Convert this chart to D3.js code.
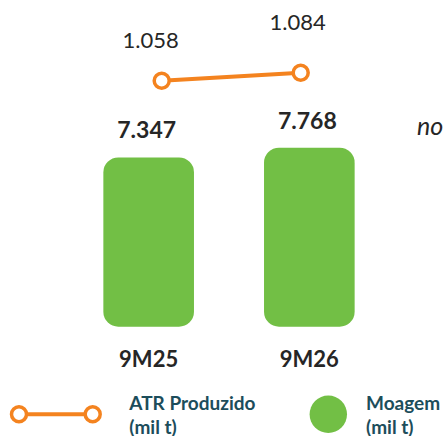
<!DOCTYPE html>
<html>
<head>
<meta charset="utf-8">
<script src="https://cdn.jsdelivr.net/npm/d3@7"></script>
<style>
  body { margin: 0; background: #fff; }
  svg { display: block; font-family: Lato, "Open Sans", sans-serif; }
</style>
</head>
<body>
<div id="chart"></div>
<script>
// data
var categories = ["9M25", "9M26"];
var moagem = [7347, 7768];      // bars, mil t
var atr = [1058, 1084];         // line, mil t
var moagemLabels = ["7.347", "7.768"];
var atrLabels = ["1.058", "1.084"];
var legendNames = [["ATR Produzido", "(mil t)"], ["Moagem", "(mil t)"]];

var W = 443, H = 436;
var orange = "#F4831F", green = "#72BF45", dark = "#262626", teal = "#1C4D5B";

var svg = d3.select("#chart").append("svg")
  .attr("width", W).attr("height", H);

var x = d3.scaleBand().domain(categories).range([33.3, 424.7]).padding(0.436);
var y = d3.scaleLinear().domain([0, 7768]).range([326.7, 147.7]);

// line has its own scales
var lx = d3.scalePoint().domain(categories).range([161.7, 300.7]);
var ly = d3.scaleLinear().domain([1000, 1100]).range([98.5, 67.8]);

var bars = categories.map(function(c, i) { return { cat: c, v: moagem[i], lab: moagemLabels[i] }; });
var pts = categories.map(function(c, i) { return { cat: c, v: atr[i], lab: atrLabels[i] }; });

// bars
svg.selectAll(".bar")
  .data(bars)
  .enter().append("rect")
  .attr("class", "bar")
  .attr("x", function(d) { return x(d.cat); })
  .attr("y", function(d) { return y(d.v); })
  .attr("width", x.bandwidth())
  .attr("height", function(d) { return y(0) - y(d.v); })
  .attr("rx", 15).attr("ry", 15)
  .attr("fill", green);

// bar value labels
svg.selectAll(".barlab")
  .data(bars)
  .enter().append("text")
  .attr("x", function(d) { return x(d.cat) + x.bandwidth() / 2 - 2; })
  .attr("y", function(d) { return y(d.v) - 19; })
  .attr("text-anchor", "middle")
  .style("font-size", "23px").style("font-weight", "bold")
  .attr("fill", dark)
  .text(function(d) { return d.lab; });

// category labels
svg.selectAll(".cat")
  .data(categories)
  .enter().append("text")
  .attr("x", function(d) { return x(d) + x.bandwidth() / 2; })
  .attr("y", 366.7)
  .attr("text-anchor", "middle")
  .style("font-size", "22px").style("font-weight", "bold")
  .attr("fill", dark)
  .text(function(d) { return d; });

// ATR line
var line = d3.line()
  .x(function(d) { return lx(d.cat); })
  .y(function(d) { return ly(d.v); });

svg.append("path")
  .datum(pts)
  .attr("d", line)
  .attr("fill", "none")
  .attr("stroke", orange)
  .attr("stroke-width", 4);

svg.selectAll(".pt")
  .data(pts)
  .enter().append("circle")
  .attr("cx", function(d) { return lx(d.cat); })
  .attr("cy", function(d) { return ly(d.v); })
  .attr("r", 7.5)
  .attr("fill", "#fff")
  .attr("stroke", orange)
  .attr("stroke-width", 3.5);

svg.selectAll(".ptlab")
  .data(pts)
  .enter().append("text")
  .attr("x", function(d, i) { return i == 0 ? lx(d.cat) - 11 : lx(d.cat) - 3; })
  .attr("y", function(d, i) { return i == 0 ? ly(d.v) - 33 : ly(d.v) - 43; })
  .attr("text-anchor", "middle")
  .style("font-size", "22px")
  .attr("fill", dark)
  .text(function(d) { return d.lab; });

// cut-off note at right edge
svg.append("text")
  .attr("x", 417).attr("y", 135)
  .style("font-size", "25px").style("font-style", "italic")
  .attr("fill", dark)
  .text("no");

// legend
var leg = svg.append("g");
leg.append("line")
  .attr("x1", 19).attr("x2", 92.7)
  .attr("y1", 414.3).attr("y2", 414.3)
  .attr("stroke", orange).attr("stroke-width", 4);
leg.selectAll(".lc")
  .data([19, 92.7])
  .enter().append("circle")
  .attr("cx", function(d) { return d; })
  .attr("cy", 414.3)
  .attr("r", 7.5)
  .attr("fill", "#fff")
  .attr("stroke", orange)
  .attr("stroke-width", 3.5);

leg.append("circle")
  .attr("cx", 328.3).attr("cy", 414.3).attr("r", 18.7)
  .attr("fill", green);

var lt = leg.selectAll(".lt")
  .data(legendNames)
  .enter().append("text")
  .attr("x", function(d, i) { return i == 0 ? 129.3 : 366; })
  .attr("y", 410)
  .style("font-size", "19px").style("font-weight", "bold")
  .attr("fill", teal);
lt.append("tspan").text(function(d) { return d[0]; });
lt.append("tspan")
  .attr("x", function(d, i) { return i == 0 ? 129.3 : 366; })
  .attr("dy", 24)
  .text(function(d) { return d[1]; });
</script>
</body>
</html>
